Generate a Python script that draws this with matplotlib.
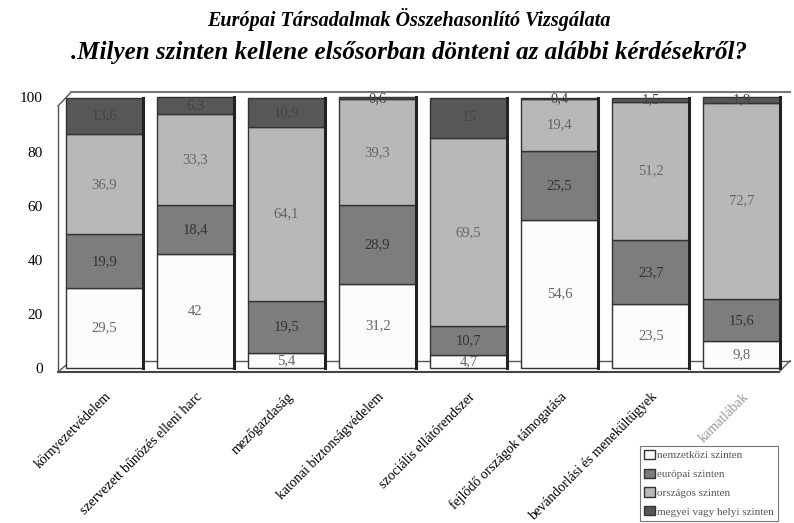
import matplotlib.pyplot as plt
from matplotlib.lines import Line2D

categories = ['környezetvédelem', 'szervezett bűnözés elleni harc', 'mezőgazdaság',
              'katonai biztonságvédelem', 'szociális ellátórendszer',
              'fejlődő országok támogatása', 'bevándorlási és menekültügyek', 'kamatlábak']
nemzetkozi = [29.5, 42, 5.4, 31.2, 4.7, 54.6, 23.5, 9.8]
europai = [19.9, 18.4, 19.5, 28.9, 10.7, 25.5, 23.7, 15.6]
orszagos = [36.9, 33.3, 64.1, 39.3, 69.5, 19.4, 51.2, 72.7]
megyei = [13.6, 6.3, 10.9, 0.6, 15, 0.4, 1.5, 1.9]
series_names = ['nemzetközi szinten', 'európai szinten', 'országos szinten', 'megyei vagy helyi szinten']
colors = ['#fbfbfb', '#7d7d7d', '#b8b8b8', '#575757']
text_colors = ['#666666', '#333333', '#666666', '#444444']

plt.rcParams['font.family'] = ['Liberation Serif', 'DejaVu Serif']

fig = plt.figure(figsize=(7.94, 5.23), dpi=100)
ax = fig.add_axes([58 / 794, 1 - 372 / 523, (790 - 58) / 794, (372 - 92) / 523])

x = list(range(len(categories)))
series = [nemzetkozi, europai, orszagos, megyei]
bottom = [0.0] * len(categories)
for vals, col, tcol, name in zip(series, colors, text_colors, series_names):
    ax.bar(x, vals, width=0.85, bottom=bottom, color=col, edgecolor='#333333',
           linewidth=1.0, label=name, zorder=3)
    for xi, v, b in zip(x, vals, bottom):
        ax.text(xi, b + v / 2, f'{v:g}'.replace('.', ','), ha='center', va='center',
                fontsize=10.5, color=tcol, zorder=4)
    bottom = [b + v for b, v in zip(bottom, vals)]

# dark right edge of bars (fake 3D side)
for xi, tot in zip(x, bottom):
    ax.plot([xi + 0.425, xi + 0.425], [0, tot], color='#222222', lw=2.2, zorder=4)

ax.set_xlim(-0.51, 7.53)
ax.set_ylim(-1.5, 102)
ax.set_yticks([0, 20, 40, 60, 80, 100])
ax.tick_params(axis='y', length=0, pad=11, labelsize=11)
ax.tick_params(axis='x', length=0, pad=13)
ax.set_xticks(x)
ax.set_xticklabels(categories, rotation=45, ha='right', va='top', rotation_mode='anchor',
                   fontsize=10)
ax.get_xticklabels()[-1].set_color('#9a9a9a')
for s in ax.spines.values():
    s.set_visible(False)

# box frame lines (pseudo 3D wall and floor)
fr = dict(color='#555555', lw=1.0, transform=ax.transAxes, clip_on=False, zorder=1)
ax.add_line(Line2D([0.0, 0.0], [0.0, 0.95], **fr))
ax.add_line(Line2D([0.0, 0.018], [0.95, 1.0], **fr))
ax.add_line(Line2D([0.018, 1.0], [1.0, 1.0], color='#777777', lw=1.5,
                   transform=ax.transAxes, clip_on=False, zorder=1))
ax.add_line(Line2D([0.0, 0.985], [0.0, 0.0], color='#444444', lw=1.5,
                   transform=ax.transAxes, clip_on=False, zorder=1))
ax.add_line(Line2D([0.0, 0.018], [0.0, 0.04], **fr))
ax.add_line(Line2D([0.018, 1.0], [0.04, 0.04], **fr))
ax.add_line(Line2D([0.985, 1.0], [0.0, 0.04], **fr))

fig.text(0.515, 0.962, 'Európai Társadalmak Összehasonlító Vizsgálata', ha='center',
         va='center', fontsize=14.5, fontweight='bold', style='italic')
fig.text(0.09, 0.90, '.Milyen szinten kellene elsősorban dönteni az alábbi kérdésekről?',
         ha='left', va='center', fontsize=18, fontweight='bold', style='italic')

leg = fig.legend(loc='upper left', bbox_to_anchor=(640 / 794, 1 - 446 / 523),
                 borderaxespad=0, fontsize=8, frameon=True, fancybox=False,
                 edgecolor='#555555', handlelength=1.0, handleheight=0.9,
                 handletextpad=0.2, borderpad=0.35, labelspacing=0.75,
                 labelcolor='#555555')
leg.get_frame().set_linewidth(0.8)

fig.savefig('out.png', dpi=100)
